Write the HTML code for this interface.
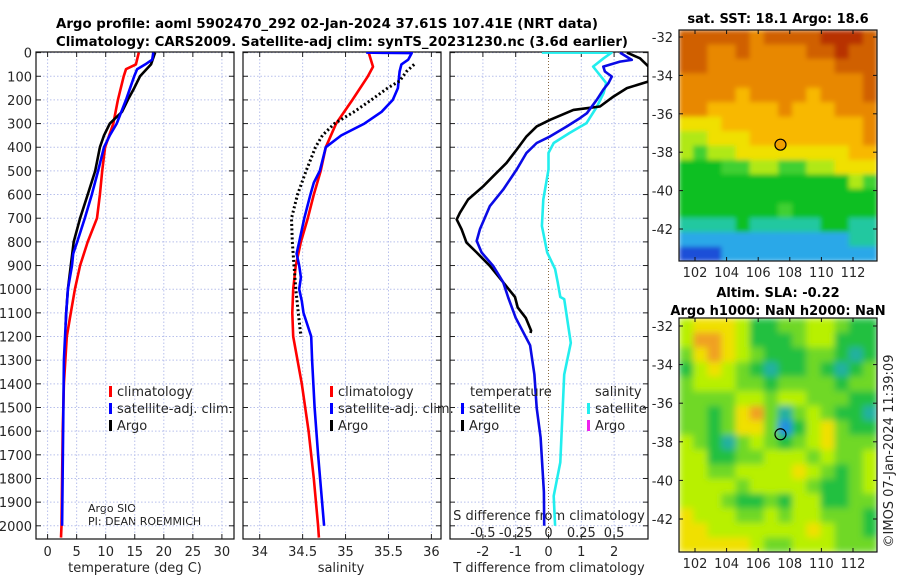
<!DOCTYPE html>
<html><head><meta charset="utf-8"><style>
html,body{margin:0;padding:0;background:#fff;}
svg{display:block;font-family:"DejaVu Sans","Liberation Sans",sans-serif;}
.tk{font-size:13px;fill:#262626;}
.tt{font-size:13px;font-weight:bold;fill:#000;}
</style></head><body>
<svg id="c" width="900" height="580" viewBox="0 0 900 580" xmlns="http://www.w3.org/2000/svg">
<defs>
<clipPath id="cp1"><rect x="36" y="52" width="198" height="487"/></clipPath>
<clipPath id="cp2"><rect x="243" y="52" width="198" height="487"/></clipPath>
<clipPath id="cp3"><rect x="450" y="52" width="198" height="487"/></clipPath>
<clipPath id="cpm1"><rect x="679" y="30" width="198" height="231"/></clipPath>
<clipPath id="cpm2"><rect x="679" y="318" width="198" height="234"/></clipPath>
<filter id="blur" x="0" y="0" width="1" height="1"><feGaussianBlur stdDeviation="3.5" edgeMode="duplicate"/></filter>
<filter id="blur2" x="0" y="0" width="1" height="1"><feGaussianBlur stdDeviation="2.5" edgeMode="duplicate"/></filter>
</defs>
<text class="tt" x="56" y="28" textLength="542" lengthAdjust="spacingAndGlyphs">Argo profile: aoml 5902470_292 02-Jan-2024 37.61S 107.41E (NRT data)</text>
<text class="tt" x="56" y="46" textLength="572" lengthAdjust="spacingAndGlyphs">Climatology: CARS2009. Satellite-adj clim: synTS_20231230.nc (3.6d earlier)</text>
<text class="tt" x="778" y="23" text-anchor="middle">sat. SST: 18.1 Argo: 18.6</text>
<text class="tt" x="778" y="297" text-anchor="middle">Altim. SLA: -0.22</text>
<text class="tt" x="778" y="315" text-anchor="middle">Argo h1000: NaN h2000: NaN</text>
<text class="tk" transform="translate(893,451) rotate(-90)" text-anchor="middle">©IMOS 07-Jan-2024 11:39:09</text>
<text class="tk" x="135" y="572" text-anchor="middle">temperature (deg C)</text>
<text class="tk" x="341" y="572" text-anchor="middle">salinity</text>
<text class="tk" x="549" y="572" text-anchor="middle">T difference from climatology</text>
<text class="tk" x="549" y="520" text-anchor="middle">S difference from climatology</text>
<text x="88" y="512" font-size="11" fill="#222">Argo SIO</text>
<text x="88" y="525" font-size="11" fill="#222">PI: DEAN ROEMMICH</text>
<g id="g"></g>
</svg>
<script>
// ---- data ----
const depthTicks=[0,100,200,300,400,500,600,700,800,900,1000,1100,1200,1300,1400,1500,1600,1700,1800,1900,2000];
const tempTicks=[0,5,10,15,20,25,30];
const salTicks=[34,34.5,35,35.5,36];
const tdiffTicks=[-2,-1,0,1,2];
const sdiffTicks=[-0.5,-0.25,0,0.25,0.5];
const sdiffTickLabels=['-0.5','-0.25','0','0.25','0.5'];
const lonTicks=[102,104,106,108,110,112];
const latTicks=[-32,-34,-36,-38,-40,-42];

const climTdepth=[0,50,70,100,200,300,400,500,600,700,800,900,1000,1100,1200,1400,1600,2000,2050];
const climT=[15.7,15.2,13.5,13.1,12.1,11.3,9.9,9.4,9.0,8.5,6.9,5.6,4.7,4.0,3.3,2.8,2.6,2.4,2.3];
const satTdepth=[0,30,50,70,100,200,300,350,400,500,600,700,800,850,900,1000,1100,1300,2000];
const satT=[18.2,18.0,16.8,15.4,14.9,13.5,11.9,10.7,9.7,8.7,7.6,6.4,5.1,4.4,4.2,3.5,3.2,2.8,2.5];
const argoTdepth=[0,50,100,150,200,250,300,350,400,500,600,700,800,900,1000,1100,1150];
const argoT=[18.5,17.8,15.9,14.9,13.8,12.8,10.7,9.7,9.0,8.2,6.9,5.6,4.5,4.0,3.5,3.2,3.1];

const climSdepth=[0,60,100,200,300,400,500,600,700,800,900,1000,1100,1200,1400,1600,1800,2000,2050];
const climS=[35.27,35.32,35.26,35.08,34.89,34.77,34.71,34.63,34.56,34.48,34.42,34.39,34.38,34.39,34.49,34.57,34.63,34.68,34.69];
const satSdepth=[0,2,30,50,80,150,200,250,300,350,400,500,550,600,700,800,850,900,950,1000,1050,1100,1200,1300,1500,1700,2000];
const satS=[35.24,35.77,35.73,35.65,35.63,35.61,35.55,35.42,35.22,34.95,34.77,34.70,34.63,34.59,34.52,34.46,34.43,34.46,34.48,34.46,34.49,34.51,34.60,34.61,34.64,34.68,34.75];
const argoSdepth=[50,80,120,150,200,250,300,350,400,500,600,700,800,900,1000,1100,1200];
const argoS=[35.80,35.71,35.63,35.49,35.30,35.10,34.87,34.73,34.65,34.54,34.44,34.37,34.38,34.40,34.42,34.45,34.48];

const argoTDdepth=[0,24,59,122,150,186,228,235,242,284,312,354,410,466,523,565,621,677,705,747,803,845,901,971,1033,1077,1122,1175,1185];
const argoTD=[2.39,2.79,3.05,3.05,2.39,1.98,1.57,1.17,0.76,0.05,-0.36,-0.67,-0.97,-1.28,-1.69,-1.99,-2.45,-2.70,-2.80,-2.65,-2.50,-2.19,-1.79,-1.38,-1.02,-0.94,-0.69,-0.53,-0.55];
const satTDdepth=[0,31,38,59,80,101,129,157,200,256,277,312,354,382,424,494,579,649,747,796,845,901,971,1035,1121,1237,1361,1502,1627,1857,2000];
const satTD=[2.18,2.54,2.18,1.67,1.72,1.93,1.83,1.67,1.47,1.17,0.96,0.56,0.05,-0.36,-0.67,-0.97,-1.38,-1.79,-2.09,-2.19,-2.04,-1.69,-1.38,-1.23,-1.0,-0.56,-0.43,-0.36,-0.24,-0.14,-0.13];
const satSDdepth=[0,0.5,24,59,80,129,171,228,298,340,382,424,494,621,733,845,915,971,1033,1042,1227,1361,1732,1874,2000];
const satSD=[-0.05,0.48,0.42,0.34,0.37,0.44,0.42,0.37,0.29,0.16,0.04,0.0,0.0,-0.04,-0.05,-0.01,0.05,0.07,0.09,0.12,0.17,0.12,0.09,0.04,0.05];

const sstGrid=[
[9,9,9,9,9,8,9,9,9,9,10,10,10,9],
[9,9,8,8,9,8,8,8,8,9,9,10,9,9],
[9,9,8,8,8,8,8,8,8,8,8,9,9,9],
[8,8,8,8,8,8,8,8,8,8,8,8,8,9],
[8,8,8,8,7,8,8,8,8,7,8,8,8,9],
[8,8,7,7,7,7,7,8,7,7,7,8,8,8],
[6,6,6,7,7,7,7,7,7,7,7,7,7,8],
[5,5,6,6,6,7,7,7,7,7,7,7,7,8],
[5,4,5,5,6,6,6,6,6,6,6,6,7,7],
[3,3,3,4,4,5,5,4,4,5,5,6,6,6],
[3,3,3,3,3,3,3,3,3,3,3,3,5,4],
[3,3,3,3,3,3,3,3,3,3,3,3,3,3],
[3,3,3,3,3,3,3,4,3,3,3,3,3,3],
[2,2,2,2,3,2,2,2,2,2,3,3,2,2],
[1,1,1,1,1,1,1,1,1,1,1,1,2,2],
[0,0,0,1,1,1,1,1,1,1,1,1,1,1]];
const slaGrid=[
[4,5,5,5,4,2,2,3,3,4,4,3,2,2],
[4,6,6,5,4,2,2,2,3,4,4,2,2,2],
[3,5,6,5,4,3,2,2,2,3,3,2,1,2],
[2,4,5,4,3,2,1,2,2,3,2,1,2,3],
[3,4,4,4,3,3,2,3,3,3,3,2,3,3],
[3,3,3,3,4,4,3,4,4,3,3,3,2,2],
[3,3,2,3,5,6,3,1,3,4,3,2,2,1],
[3,3,2,3,5,5,3,0,2,4,5,3,2,2],
[4,3,2,1,3,4,3,2,3,4,5,3,3,3],
[4,4,2,2,3,3,4,4,4,3,4,3,3,4],
[4,4,3,3,4,4,4,4,5,4,3,2,3,4],
[4,4,4,4,3,4,4,4,4,3,2,2,3,4],
[4,4,4,3,2,2,3,2,4,4,2,2,3,3],
[5,4,4,4,3,3,4,3,4,4,3,3,3,2],
[5,5,4,4,4,4,4,4,4,5,4,3,3,2],
[5,5,5,5,5,4,3,3,4,4,4,3,3,3]];
const argoLon=107.41, argoLat=-37.61;

// ---- helpers ----
const NS='http://www.w3.org/2000/svg';
const G=document.getElementById('g');
function mk(tag,attrs,parent){const e=document.createElementNS(NS,tag);for(const k in attrs)e.setAttribute(k,attrs[k]);(parent||G).appendChild(e);return e;}
const yD=d=>52.6+d*0.2366;
const xT=v=>47.6+v*5.81;
const xS=v=>259.7+(v-34)*85.85;
const xTD=v=>548.5+v*32.8;
const xSD=v=>548.5+v*131.2;
const PX=[[36,234],[243,441],[450,648]];

function panel(i,xf,vt){
  const [a,b]=PX[i];
  const g=mk('g',{});
  
  
  depthTicks.forEach(d=>{const y=yD(d);
    const l=mk('line',{x1:a,x2:b,y1:y,y2:y,stroke:'#b8c0ec','stroke-dasharray':'1.5,2','stroke-width':1},g);
    
    
    mk('line',{x1:a,x2:a+5,y1:y,y2:y,stroke:'#222'},g);mk('line',{x1:b-5,x2:b,y1:y,y2:y,stroke:'#222'},g);});
  vt.forEach(v=>{const x=xf(v);
    const zero=(i===2&&v===0);
    const l=mk('line',{x1:x,x2:x,y1:52,y2:539,stroke:zero?'#8a6a40':'#b8c0ec','stroke-dasharray':zero?'1,2':'1.5,2','stroke-width':1},g);
    
    
    mk('line',{x1:x,x2:x,y1:52,y2:57,stroke:'#222'},g);mk('line',{x1:x,x2:x,y1:534,y2:539,stroke:'#222'},g);
    const t=mk('text',{x:x,y:556,'text-anchor':'middle',class:'tk'},g);t.textContent=String(v);
    
    });
  const r=mk('rect',{x:a,y:52,width:b-a,height:487,fill:'none',stroke:'#111','stroke-width':1.2},g);
  
  
  return g;
}
panel(0,xT,tempTicks);panel(1,xS,salTicks);panel(2,xTD,tdiffTicks);
depthTicks.forEach(d=>{const t=mk('text',{x:32,y:yD(d)+5,'text-anchor':'end',class:'tk'});t.textContent=String(d);
  
  });
sdiffTicks.forEach((v,k)=>{const t=mk('text',{x:xSD(v),y:537,'text-anchor':'middle',class:'tk'});t.textContent=sdiffTickLabels[k];
  
  });

function series(ds,vs,xf,color,clip,name,dash){
  const pts=ds.map((d,k)=>xf(vs[k]).toFixed(1)+','+yD(d).toFixed(1)).join(' ');
  const attrs={points:pts,fill:'none',stroke:color,'stroke-width':dash?3:2.6,'stroke-linejoin':'round','clip-path':'url(#'+clip+')'};
  if(dash)attrs['stroke-dasharray']=dash;
  const p=mk('polyline',attrs);
  
  
}
series(climTdepth,climT,xT,'#ff0000','cp1','temperature-climatology-line');
series(argoTdepth,argoT,xT,'#000000','cp1','temperature-argo-line');
series(satTdepth,satT,xT,'#0000ff','cp1','temperature-satellite-line');
series(climSdepth,climS,xS,'#ff0000','cp2','salinity-climatology-line');
series(satSdepth,satS,xS,'#0000ff','cp2','salinity-satellite-line');
series(argoSdepth,argoS,xS,'#000000','cp2','salinity-argo-line','2,2.5');
series(satSDdepth,satSD,xSD,'#22eeee','cp3','salinity-difference-satellite-line');
series(argoTDdepth,argoTD,xTD,'#000000','cp3','temperature-difference-argo-line');
series(satTDdepth,satTD,xTD,'#0a0ae6','cp3','temperature-difference-satellite-line');

function legend(x,y,color,label,name){
  const g=mk('g',{});
  
  
  mk('rect',{x:x,y:y-10,width:3,height:11,fill:color},g);
  const t=mk('text',{x:x+8,y:y,class:'tk'},g);t.textContent=label;
}
legend(109,396,'#ff0000','climatology','legend-entry-climatology');
legend(109,413,'#0000ff','satellite-adj. clim.','legend-entry-satellite');
legend(109,430,'#000000','Argo','legend-entry-argo');
legend(330,396,'#ff0000','climatology','legend-entry-climatology-2');
legend(330,413,'#0000ff','satellite-adj. clim.','legend-entry-satellite-2');
legend(330,430,'#000000','Argo','legend-entry-argo-2');
{const t=mk('text',{x:470,y:396,class:'tk'});t.textContent='temperature';
 
 }
{const t=mk('text',{x:595,y:396,class:'tk'});t.textContent='salinity';
 
 }
legend(461,413,'#0000ff','satellite','legend-entry-t-satellite');
legend(461,430,'#000000','Argo','legend-entry-t-argo');
legend(587,413,'#22eeee','satellite','legend-entry-s-satellite');
legend(587,430,'#ee22ee','Argo','legend-entry-s-argo');

// maps
const sstCols=['#1a4fd8','#2aa8e8','#20c8a0','#10bf20','#40d030','#b0e818','#f0e000','#f8b800','#e88800','#d06000','#b83000'];
const slaCols=['#2090e0','#20b0a0','#20c040','#70d828','#b8f000','#f0e000','#f0a020'];
function map(grid,cols,x0,y0,w,h,clip,name,filt,lonX,latY){
  const g=mk('g',{'clip-path':'url(#'+clip+')'});
  
  
  const inner=mk('g',{filter:'url(#'+filt+')'},g);
  const nr=grid.length,nc=grid[0].length,cw=w/nc,ch=h/nr;
  grid.forEach((row,r)=>row.forEach((v,c)=>{
    const cell=mk('rect',{x:(x0+c*cw).toFixed(2),y:(y0+r*ch).toFixed(2),width:(cw+0.6).toFixed(2),height:(ch+0.6).toFixed(2),fill:cols[v]},inner);
    
    
  }));
  const fr=mk('rect',{x:x0,y:y0,width:w,height:h,fill:'none',stroke:'#111','stroke-width':1.2});
  
  
  lonTicks.forEach(v=>{const x=lonX(v);
    mk('line',{x1:x,x2:x,y1:y0,y2:y0+4,stroke:'#111'});mk('line',{x1:x,x2:x,y1:y0+h-4,y2:y0+h,stroke:'#111'});
    const t=mk('text',{x:x,y:y0+h+16,'text-anchor':'middle',class:'tk'});t.textContent=String(v);
    
    });
  latTicks.forEach(v=>{const y=latY(v);
    mk('line',{x1:x0,x2:x0+4,y1:y,y2:y,stroke:'#111'});mk('line',{x1:x0+w-4,x2:x0+w,y1:y,y2:y,stroke:'#111'});
    const t=mk('text',{x:x0-6,y:y+5,'text-anchor':'end',class:'tk'});t.textContent=String(v);
    
    });
}
const lonX=v=>695+(v-102)*15.8;
const lat1=v=>37+(-32-v)*19.2;
const lat2=v=>326+(-32-v)*19.3;
map(sstGrid,sstCols,679,30,198,231,'cpm1','sst-map','blur2',lonX,lat1);
map(slaGrid,slaCols,679,318,198,234,'cpm2','sla-map','blur',lonX,lat2);
{const c=mk('circle',{cx:lonX(argoLon),cy:lat1(argoLat),r:5.5,fill:'#f0a000',stroke:'#000','stroke-width':1.2});
 
 }
{const c=mk('circle',{cx:lonX(argoLon),cy:lat2(argoLat),r:5.5,fill:'none',stroke:'#000','stroke-width':1.2});
 
 }
</script>
</body></html>
